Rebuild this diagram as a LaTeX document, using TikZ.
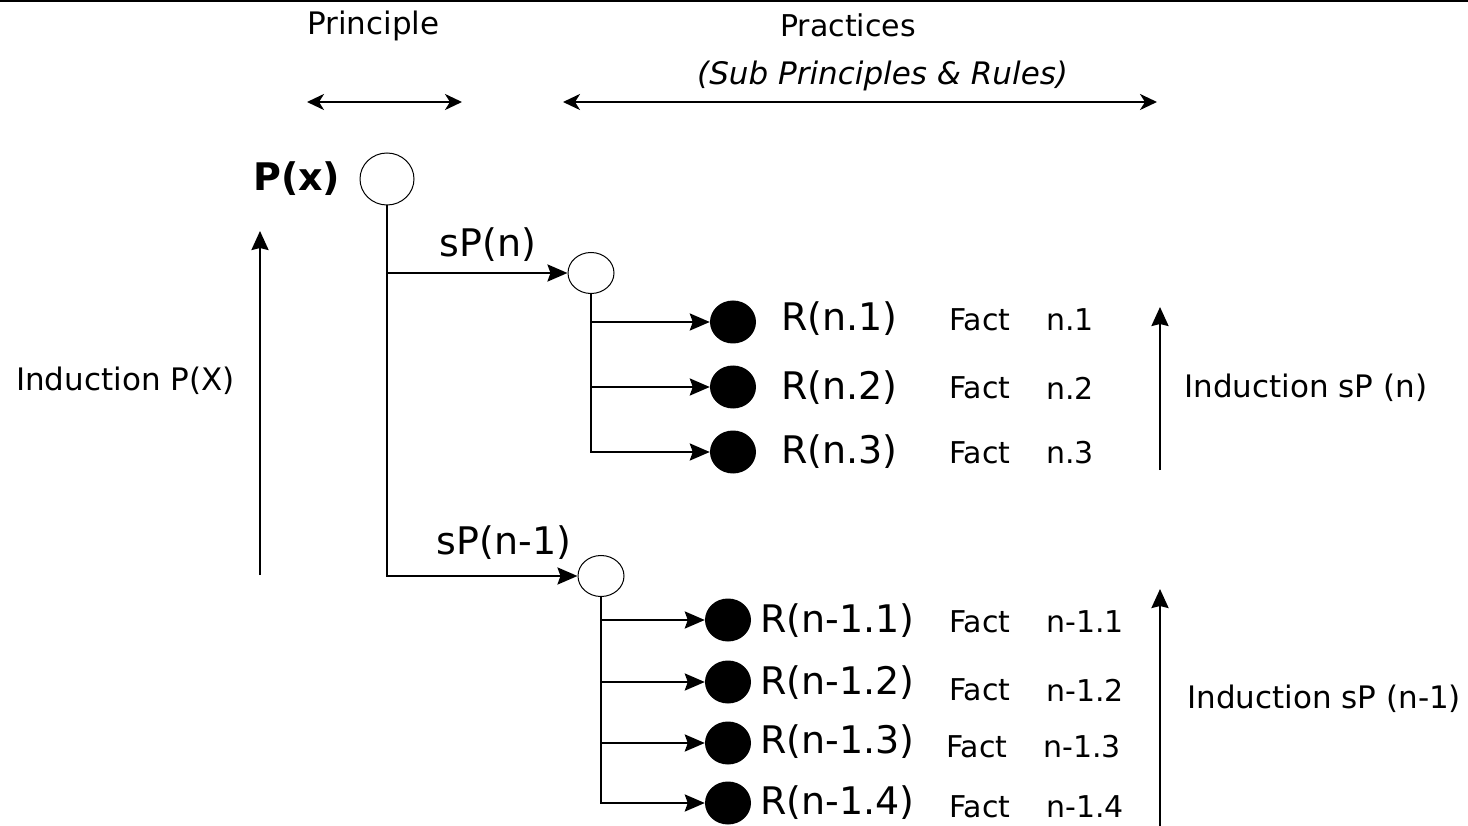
\documentclass[tikz,border=0pt]{standalone}
\usepackage{fontspec}
\setmainfont{DejaVu Sans}
\usetikzlibrary{arrows.meta,shapes.geometric}
\begin{document}
\begin{tikzpicture}[x=1pt,y=-1pt,
  hollow/.style={ellipse,draw,line width=1pt,inner sep=0pt},
  bigring/.style={hollow,minimum width=54pt,minimum height=52pt},
  ring/.style={hollow,minimum width=46pt,minimum height=41pt},
  dot/.style={ellipse,fill=black,inner sep=0pt,minimum width=46pt,minimum height=43pt},
  txt/.style={inner sep=0pt,anchor=west},
  small/.style={txt,font=\fontsize{30}{36}\selectfont},
  mid/.style={txt,font=\fontsize{31}{37}\selectfont},
  big/.style={txt,font=\fontsize{38}{45}\selectfont},
  link/.style={line width=2.5pt,-{Stealth[length=20pt,width=17pt,inset=3pt]}},
  span/.style={line width=2.5pt,{Stealth[length=17pt,width=16pt,inset=5pt]}-{Stealth[length=17pt,width=16pt,inset=5pt]}},
  rise/.style={line width=2.5pt,-{Stealth[length=19pt,width=17pt,inset=2pt]}}]
\useasboundingbox (0,0) rectangle (1468,826);

% top rule
\draw[line width=2.5pt] (0,1) -- (1468,1);

% column headings
\node[mid] (hprin) at (307,26) {Principle};
\node[small] (hprac) at (780,25) {Practices};
\node[mid,font=\fontsize{31}{37}\selectfont\itshape] (hsub) at (697,76) {(Sub Principles \& Rules)};
\coordinate (pa) at (307,102);
\coordinate (pb) at (462,102);
\coordinate (qa) at (563,102);
\coordinate (qb) at (1157,102);
\draw[span] (pa) -- (pb);
\draw[span] (qa) -- (qb);

% principle
\node[txt,font=\fontsize{38}{45}\selectfont\bfseries] (lpx) at (253,179) {P(x)};
\node[bigring] (px) at (387,179) {};

% sub principles
\node[ring] (sa) at (591,273) {};
\node[ring] (sb) at (601,576) {};
\node[big,anchor=center] (lsa) at (488,245) {sP(n)};
\node[big,anchor=center] (lsb) at (504,543) {sP(n-1)};
\draw[link] (px.south) |- (sa.west);
\draw[link] (px.south) |- (sb.west);

% rules of sP(n)
\node[dot] (ra1) at (733,322) {};
\node[dot] (ra2) at (733,387) {};
\node[dot] (ra3) at (733,452) {};
\draw[link] (sa.south) |- (ra1.west);
\draw[link] (sa.south) |- (ra2.west);
\draw[link] (sa.south) |- (ra3.west);
\node[big] (lra1) at (781,319) {R(n.1)};
\node[big] (lra2) at (781,388) {R(n.2)};
\node[big] (lra3) at (781,452) {R(n.3)};
\node[small] (fa1) at (949,320) {Fact};
\node[small] (fa2) at (949,388) {Fact};
\node[small] (fa3) at (949,453) {Fact};
\node[small] (na1) at (1046,320) {n.1};
\node[small] (na2) at (1046,388) {n.2};
\node[small] (na3) at (1046,453) {n.3};

% rules of sP(n-1)
\node[dot] (rb1) at (728,620) {};
\node[dot] (rb2) at (728,682) {};
\node[dot] (rb3) at (728,743) {};
\node[dot] (rb4) at (728,803) {};
\draw[link] (sb.south) |- (rb1.west);
\draw[link] (sb.south) |- (rb2.west);
\draw[link] (sb.south) |- (rb3.west);
\draw[link] (sb.south) |- (rb4.west);
\node[big] (lrb1) at (760,621) {R(n-1.1)};
\node[big] (lrb2) at (760,683) {R(n-1.2)};
\node[big] (lrb3) at (760,742) {R(n-1.3)};
\node[big] (lrb4) at (760,803) {R(n-1.4)};
\node[small] (fb1) at (949,622) {Fact};
\node[small] (fb2) at (949,690) {Fact};
\node[small] (fb3) at (946,747) {Fact};
\node[small] (fb4) at (949,807) {Fact};
\node[small] (nb1) at (1046,622) {n-1.1};
\node[small] (nb2) at (1046,690) {n-1.2};
\node[small] (nb3) at (1043,747) {n-1.3};
\node[small] (nb4) at (1046,807) {n-1.4};

% induction arrows
\coordinate (ia) at (260,575);
\coordinate (ib) at (260,231);
\coordinate (ja) at (1160,470);
\coordinate (jb) at (1160,307);
\coordinate (ka) at (1160,826);
\coordinate (kb) at (1160,589);
\draw[rise] (ia) -- (ib);
\draw[rise] (ja) -- (jb);
\draw[rise] (ka) -- (kb);
\node[mid] (ipx) at (16,381) {Induction P(X)};
\node[mid] (isa) at (1184,388) {Induction sP (n)};
\node[mid] (isb) at (1187,699) {Induction sP (n-1)};
\end{tikzpicture}
\end{document}
